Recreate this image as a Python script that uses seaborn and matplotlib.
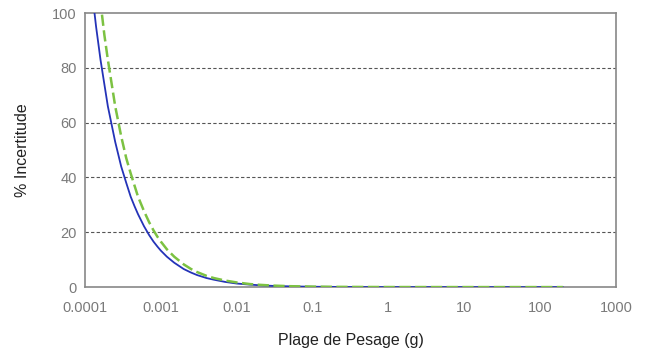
import matplotlib.pyplot as plt
import numpy as np
import pandas as pd
import seaborn as sns

# weighing range (g) and % uncertainty for the two instruments
masse = [0.0001, 0.00012, 0.00014, 0.00016, 0.00018, 0.0002, 0.00025, 0.0003,
         0.00035, 0.0004, 0.00045, 0.0005, 0.0006, 0.0007, 0.0008, 0.0009,
         0.001, 0.0012, 0.0015, 0.002, 0.0025, 0.003, 0.004, 0.005, 0.007,
         0.01, 0.015, 0.02, 0.03, 0.05, 0.1, 0.2, 0.5, 1, 10, 100, 200]
incert_bleu = [133, 111, 95, 83, 74, 66, 53, 44,
               38, 33, 29.5, 26.6, 22.2, 19, 16.6, 14.8,
               13.3, 11.1, 8.9, 6.6, 5.3, 4.4, 3.3, 2.7, 1.9,
               1.3, 0.9, 0.67, 0.44, 0.27, 0.13, 0.07, 0.03, 0.015, 0.004, 0.002, 0.001]
incert_vert = [166, 138, 119, 104, 92, 83, 66, 55,
               47, 41.5, 37, 33, 27.7, 23.7, 20.7, 18.4,
               16.6, 13.8, 11.1, 8.3, 6.6, 5.5, 4.1, 3.3, 2.4,
               1.7, 1.1, 0.83, 0.55, 0.33, 0.17, 0.09, 0.04, 0.02, 0.005, 0.002, 0.001]
xticks = [0.0001, 0.001, 0.01, 0.1, 1, 10, 100, 1000]
xticklabels = ["0.0001", "0.001", "0.01", "0.1", "1", "10", "100", "1000"]
yticks = [0, 20, 40, 60, 80, 100]

df = pd.DataFrame({
    "masse": masse * 2,
    "incert": incert_bleu + incert_vert,
    "serie": ["A"] * len(masse) + ["B"] * len(masse),
})

sns.set_style("white")
plt.rcParams['font.family'] = ['Liberation Sans', 'DejaVu Sans']

fig = plt.figure(figsize=(6.49, 3.54), dpi=100)
ax = fig.add_axes([0.131, 0.189, 0.818, 0.774])

sns.lineplot(data=df, x="masse", y="incert", hue="serie", style="serie",
             size="serie", sizes={"A": 1.3, "B": 1.8},
             palette={"A": "#2433b8", "B": "#7cc242"},
             dashes={"A": "", "B": (4.5, 1.8)},
             legend=False, ax=ax, zorder=3)

ax.set_xscale("log")
ax.set_xlim(0.0001, 1000)
ax.set_ylim(0, 100)
ax.set_xticks(xticks)
ax.set_xticklabels(xticklabels)
ax.xaxis.set_minor_locator(plt.NullLocator())
ax.set_yticks(yticks)

for y in yticks[1:-1]:
    ax.axhline(y, color="#555555", linestyle=(0, (3, 2)), linewidth=0.8, zorder=1)

for s in ax.spines.values():
    s.set_color("#888888")
    s.set_linewidth(1.2)

ax.tick_params(axis="both", colors="#888888", labelcolor="#7a7a7a",
               labelsize=10.5, length=4, width=1, direction="out")
ax.tick_params(axis="x", pad=6)
ax.tick_params(axis="y", pad=2)

ax.set_xlabel("Plage de Pesage (g)", fontsize=11.5, color="#222222", labelpad=13)
ax.set_ylabel("% Incertitude", fontsize=11.5, color="#222222", labelpad=16)

fig.savefig("out.png", dpi=100)
